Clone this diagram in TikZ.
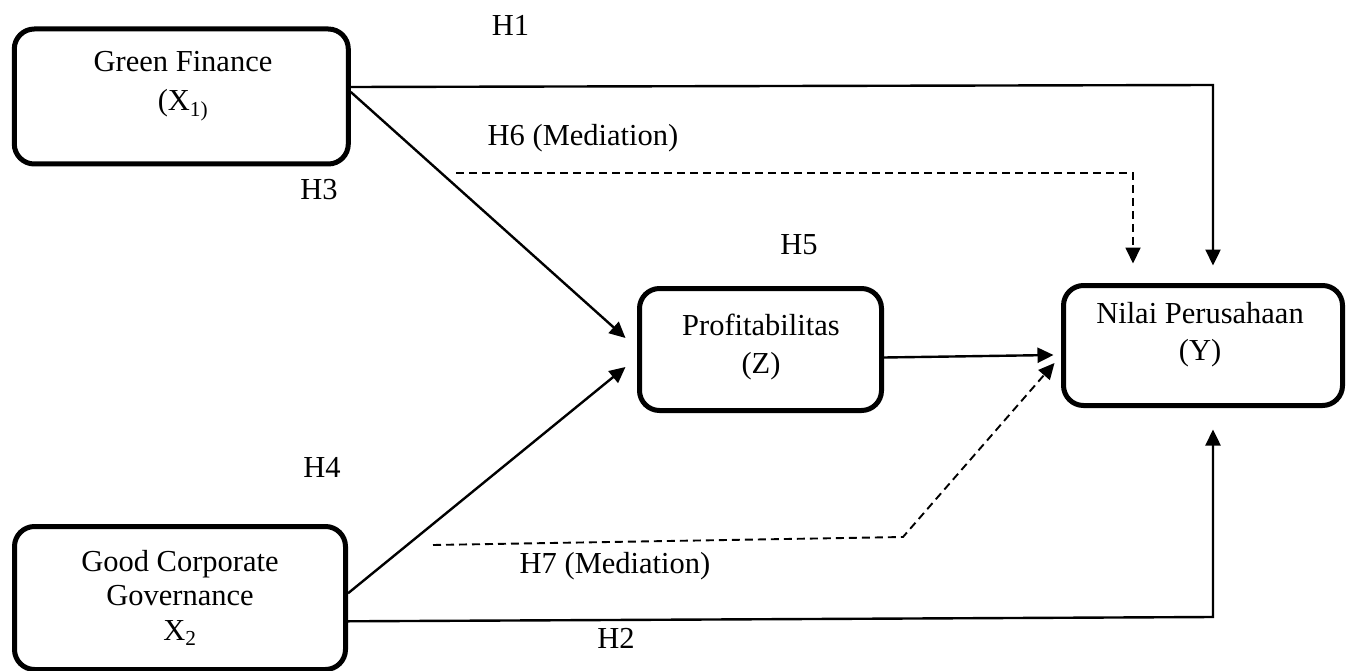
\documentclass[tikz,border=0pt]{standalone}
\usepackage{fontspec}
\setmainfont{Liberation Serif}
\usetikzlibrary{arrows.meta}
\begin{document}
\begin{tikzpicture}[x=1pt,y=-1pt,
  box/.style={draw, line width=5pt, rounded corners=20pt, inner sep=0pt},
  txt/.style={align=center, inner sep=0pt, font=\fontsize{30.5}{39}\selectfont},
  lbl/.style={anchor=base, inner sep=0pt, font=\fontsize{30.5}{36}\selectfont},
  conn/.style={line width=2.4pt, -{Triangle[length=16pt,width=15pt]}},
  dconn/.style={conn, line width=1.9pt, dash pattern=on 8pt off 5pt}]
\useasboundingbox (0,0) rectangle (1351,671);
% boxes
\node[box, minimum width=334pt, minimum height=135pt] (gf) at (181.3,96.5) {};
\node[box, minimum width=331pt, minimum height=143pt] (gcg) at (180,598) {};
\node[box, minimum width=242pt, minimum height=122pt] (pz) at (760.5,349.5) {};
\node[box, minimum width=279pt, minimum height=120pt] (ny) at (1203,345.5) {};
% box texts
\node[txt] (gft) at (183,86) {Green Finance\\(X\textsubscript{1)}};
\node[txt, font=\fontsize{30.5}{34.5}\selectfont] (gcgt) at (180,598) {Good Corporate\\Governance\\X\textsubscript{2}};
\node[txt, font=\fontsize{30.5}{38}\selectfont] (pzt) at (761,347) {Profitabilitas\\(Z)};
\node[txt, font=\fontsize{30.5}{37}\selectfont] (nyt) at (1200,335) {Nilai Perusahaan\\(Y)};
% labels
\node[lbl] (h1) at (510.5,36) {H1};
\node[lbl] (h6) at (583,145.5) {H6 (Mediation)};
\node[lbl] (h3) at (319,200) {H3};
\node[lbl] (h5) at (799,254) {H5};
\node[lbl] (h4) at (322,477) {H4};
\node[lbl] (h7) at (615,573) {H7 (Mediation)};
\node[lbl] (h2) at (616,648) {H2};
% corner coordinates
\coordinate (c1) at (1213,85);
\coordinate (c2) at (1213,617);
\coordinate (d6s) at (456,173);
\coordinate (d6c) at (1133,173);
\coordinate (d7s) at (433,545);
\coordinate (d7c) at (903,537);
% connectors
\draw[conn] ([yshift=9.5pt]gf.east) -- (c1) -- ([yshift=17.5pt]c1 |- ny.north);
\draw[conn] ([yshift=4.5pt]gf.east) -- ([xshift=-11.5pt,yshift=11.5pt]pz.west);
\draw[conn] ([yshift=4.7pt]gcg.east) -- ([xshift=-11.5pt,yshift=-17.5pt]pz.west);
\draw[conn] ([yshift=-8pt]pz.east) -- ([xshift=-7.5pt,yshift=-9.5pt]ny.west);
\draw[conn] ([yshift=-23.3pt]gcg.east) -- (c2) -- ([yshift=-21.5pt]c2 |- ny.south);
\draw[dconn] (d6s) -- (d6c) -- ([yshift=19.5pt]d6c |- ny.north);
\draw[dconn] (d7s) -- (d7c) -- ([xshift=-6.5pt,yshift=-17.5pt]ny.west);
\end{tikzpicture}
\end{document}
